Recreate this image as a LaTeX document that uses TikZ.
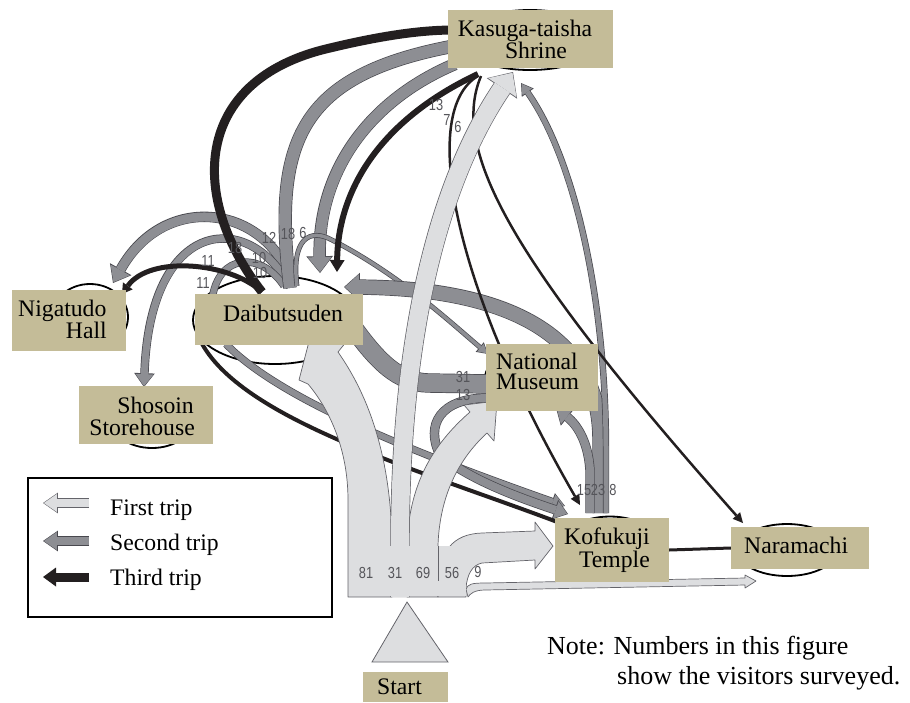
\documentclass[tikz,border=0pt]{standalone}
\usepackage{fontspec}
\setmainfont{Liberation Serif}
\newfontfamily\numfont{Liberation Sans}[FakeStretch=0.8]
\usetikzlibrary{arrows.meta}

\definecolor{boxtan}{RGB}{196,188,152}
\definecolor{firstfill}{RGB}{221,222,224}
\definecolor{firstedge}{RGB}{100,100,106}
\definecolor{secondfill}{RGB}{141,142,147}
\definecolor{secondedge}{RGB}{72,72,78}
\definecolor{thirdc}{RGB}{35,31,32}
\definecolor{numgray}{RGB}{85,85,90}

\newcommand{\placefont}{\fontsize{23.7}{22}\selectfont}
\newcommand{\notefont}{\fontsize{26}{26}\selectfont}

% band with an outline: fill, edge, shaft width, head width, head length, path
\newcommand{\tripband}[6]{%
  \pgfmathsetmacro\bandouter{#3+1.4}%
  \pgfmathsetmacro\headouterw{#4+2.6}%
  \pgfmathsetmacro\headouterl{#5+1.8}%
  \draw[#2, line width=\bandouter pt, -{Triangle[width=\headouterw pt, length=\headouterl pt, line width=0pt]}] #6;
  \draw[#1, line width=#3pt, shorten >=0.9pt, -{Triangle[width=#4pt, length=#5pt, line width=0pt]}] #6;
}
% same band, head hidden under a box
\newcommand{\tripflow}[4]{%
  \pgfmathsetmacro\bandouter{#3+1.4}%
  \draw[#2, line width=\bandouter pt] #4;
  \draw[#1, line width=#3pt] #4;
}
% black third-trip band
\newcommand{\thirdband}[4]{%
  \draw[thirdc, line width=#1pt, -{Triangle[width=#2pt, length=#3pt, line width=0pt]}] #4;
}
\newcommand{\thirdflow}[2]{%
  \draw[thirdc, line width=#1pt] #2;
}

\begin{document}
\begin{tikzpicture}[x=1pt, y=-1pt,
  placebox/.style={rectangle, fill=boxtan, inner sep=0pt},
  placering/.style={draw=black, line width=1.8pt},
  placetext/.style={inner sep=0pt, font=\placefont},
  notetext/.style={inner sep=0pt, font=\notefont},
  numlabel/.style={inner sep=0pt, text=numgray, font=\numfont\fontsize{16}{16}\selectfont},
  firstshape/.style={fill=firstfill, draw=firstedge, line width=0.7pt, line join=round}]

  \useasboundingbox (0,0) rectangle (910,702);

  % Rings behind the places
  \draw[placering] (530,40) ellipse [x radius=72, y radius=30];
  \draw[placering] (90,317) ellipse [x radius=38, y radius=33];
  \draw[placering] (275,320) ellipse [x radius=82, y radius=44];
  \draw[placering] (541,378) ellipse [x radius=56, y radius=31];
  \draw[placering] (152,418) ellipse [x radius=42, y radius=30];
  \draw[placering] (610,548.5) ellipse [x radius=52, y radius=32];
  \draw[placering] (787,550) ellipse [x radius=50, y radius=26];

  % Second trip
  \tripband{secondfill}{secondedge}{9}{22}{14}{(293,285) .. controls (268,205) and (165,190) .. (113,283)}
  \tripband{secondfill}{secondedge}{7}{18}{12}{(290,287) .. controls (250,210) and (150,215) .. (144,387)}
  \tripflow{secondfill}{secondedge}{6}{(284,286) .. controls (262,252) and (218,252) .. (212,300)}
  \tripflow{secondfill}{secondedge}{12}{(290,288) .. controls (272,140) and (300,75) .. (454,46)}
  \tripband{secondfill}{secondedge}{11}{24}{15}{(455,64) .. controls (370,100) and (318,170) .. (320,273)}
  \tripband{secondfill}{secondedge}{3.5}{10}{9}{(297,286) .. controls (291,238) and (310,228) .. (332,240) .. controls (400,275) and (450,322) .. (488,354)}
  \tripband{secondfill}{secondedge}{14}{26}{14}{(600,513) -- (600,440) .. controls (600,320) and (480,288) .. (344,287)}
  \tripband{secondfill}{secondedge}{8}{19}{13}{(590,513) -- (590,470) .. controls (588,440) and (576,424) .. (556,408)}
  \tripband{secondfill}{secondedge}{5}{12}{10}{(606,513) -- (606,450) .. controls (606,300) and (575,160) .. (521,83)}
  \tripflow{secondfill}{secondedge}{18}{(489,384) -- (428,383) .. controls (398,382) and (378,362) .. (352,326)}
  \tripband{secondfill}{secondedge}{6}{15}{12}{(226,344) .. controls (280,400) and (420,455) .. (565,506)}
  \tripband{secondfill}{secondedge}{8}{18}{12}{(488,398) .. controls (440,398) and (425,425) .. (440,455) .. controls (470,480) and (520,498) .. (568,514)}

  % Third trip
  \thirdflow{9}{(262,292) .. controls (190,200) and (190,80) .. (330,48) .. controls (380,36) and (420,30) .. (454,30)}
  \thirdband{6}{15}{12}{(478,74) .. controls (380,120) and (338,190) .. (337,272)}
  \thirdband{5}{12}{10}{(262,292) .. controls (230,262) and (150,255) .. (122,294)}
  \thirdflow{4}{(200,340) .. controls (240,420) and (420,470) .. (560,523)}
  \thirdband{2.5}{10}{10}{(478,76) .. controls (420,110) and (450,280) .. (580,505)}
  \thirdband{2.5}{10}{10}{(481,76) .. controls (450,150) and (510,260) .. (743,523)}

  % First trip from the start
  \draw[firstshape] (348,597) -- (348,500) .. controls (348,450) and (330,410) .. (308,384) -- (299,380) -- (312,330) -- (346,342) -- (338,352) .. controls (366,392) and (390,450) .. (392,540) -- (392,597) -- cycle;
  \draw[firstshape] (407,597) -- (407,545) .. controls (409,485) and (432,445) .. (470,412) -- (464,405) -- (497,401) -- (494,441) -- (487,433) .. controls (463,455) and (440,490) .. (438,545) -- (438,597) -- cycle;
  \draw[firstshape] (438,597) -- (438,582) .. controls (440,552) and (452,534) .. (482,533) -- (535,531) -- (535,522) -- (553,546) -- (535,569) -- (535,560) -- (482,563) .. controls (472,565) and (467,575) .. (466,588) -- (466,597) -- cycle;
  \draw[firstshape] (466,589) .. controls (468,584) and (472,583) .. (485,583) -- (745,578) -- (745,575) -- (756,581) -- (745,588) -- (745,585) -- (485,590) .. controls (474,590) and (470,594) .. (468,597) -- cycle;
  \tripband{firstfill}{firstedge}{18}{34}{18}{(400,597) -- (400,545) .. controls (400,330) and (440,180) .. (513,72)}
  \fill[firstfill] (348.8,546) rectangle (465.6,596.4);
  \draw[firstedge, line width=0.7pt] (438,546) -- (438,581);

  % Places
  \node[placebox, minimum width=165, minimum height=58] (kasuga) at (530.5,39) {};
  \node[placebox, minimum width=114, minimum height=61] (nigatudo) at (69,320.5) {};
  \node[placebox, minimum width=168, minimum height=51] (daibutsuden) at (279,319.5) {};
  \node[placebox, minimum width=112, minimum height=67] (museum) at (542,377.5) {};
  \node[placebox, minimum width=134, minimum height=58] (shosoin) at (146,415) {};
  \node[placebox, minimum width=114, minimum height=64] (kofukuji) at (612,550) {};
  \node[placebox, minimum width=138, minimum height=42] (naramachi) at (800,548) {};
  \node[placebox, minimum width=85, minimum height=30] (start) at (405.5,687) {};
  \draw[thirdc, line width=3pt] (kofukuji.east) -- (naramachi.west);
  \draw[fill=firstfill, draw=firstedge, line width=0.8pt] (407,602) -- (448,662) -- (372,662) -- cycle;

  \node[placetext, anchor=base] (kasugaA) at (525,36) {Kasuga-taisha};
  \node[placetext, anchor=base] (kasugaB) at (536,58) {Shrine};
  \node[placetext, anchor=base west] (nigatudoA) at (18,316) {Nigatudo};
  \node[placetext, anchor=base east] (nigatudoB) at (107,338) {Hall};
  \node[placetext, anchor=base west] (daibutsudenA) at (223,321) {Daibutsuden};
  \node[placetext, anchor=base west] (museumA) at (496,369) {National};
  \node[placetext, anchor=base west] (museumB) at (496,389) {Museum};
  \node[placetext, anchor=base east] (shosoinA) at (194,413) {Shosoin};
  \node[placetext, anchor=base east] (shosoinB) at (195,435) {Storehouse};
  \node[placetext, anchor=base east] (kofukujiA) at (650,544) {Kofukuji};
  \node[placetext, anchor=base east] (kofukujiB) at (650,567) {Temple};
  \node[placetext, anchor=base west] (naramachiA) at (744,553) {Naramachi};
  \node[placetext, anchor=base west] (startA) at (377,694) {Start};

  % Visitor counts
  \node[numlabel] (n81) at (366,573) {81};
  \node[numlabel] (n31) at (395,573) {31};
  \node[numlabel] (n69) at (423,573) {69};
  \node[numlabel] (n56) at (452,573) {56};
  \node[numlabel] (n9) at (478,572) {9};
  \node[numlabel] (k13) at (436,105) {13};
  \node[numlabel] (k7) at (447,120) {7};
  \node[numlabel] (k6) at (458,127) {6};
  \node[numlabel] (d12) at (269,238) {12};
  \node[numlabel] (d18a) at (288,234) {18};
  \node[numlabel] (d6) at (303,233) {6};
  \node[numlabel] (d18b) at (235,248) {18};
  \node[numlabel] (d11a) at (208,261) {11};
  \node[numlabel] (d10a) at (259,258) {10};
  \node[numlabel] (d10b) at (260,273) {10};
  \node[numlabel] (d11b) at (203,283) {11};
  \node[numlabel] (m31) at (463,377) {31};
  \node[numlabel] (m13) at (463,395) {13};
  \node[numlabel] (f15) at (584,490) {15};
  \node[numlabel] (f23) at (598,490) {23};
  \node[numlabel] (f8) at (613,490) {8};

  % Legend
  \node[draw, line width=1.3pt, inner sep=0pt, minimum width=304, minimum height=139] (legend) at (180,547.5) {};
  \tripband{firstfill}{firstedge}{8}{18}{13}{(89,503) -- (43,503)}
  \tripband{secondfill}{secondedge}{8}{18}{13}{(89,541) -- (43,541)}
  \thirdband{9}{19}{13}{(89,577) -- (43,577)}
  \node[placetext, anchor=base west] (firsttxt) at (110,515) {First trip};
  \node[placetext, anchor=base west] (secondtxt) at (110,550) {Second trip};
  \node[placetext, anchor=base west] (thirdtxt) at (110,585) {Third trip};

  % Note
  \node[notetext, anchor=base west] (noteA) at (547,654) {Note: Numbers in this figure};
  \node[notetext, anchor=base west] (noteB) at (617,684) {show the visitors surveyed.};
\end{tikzpicture}
\end{document}
